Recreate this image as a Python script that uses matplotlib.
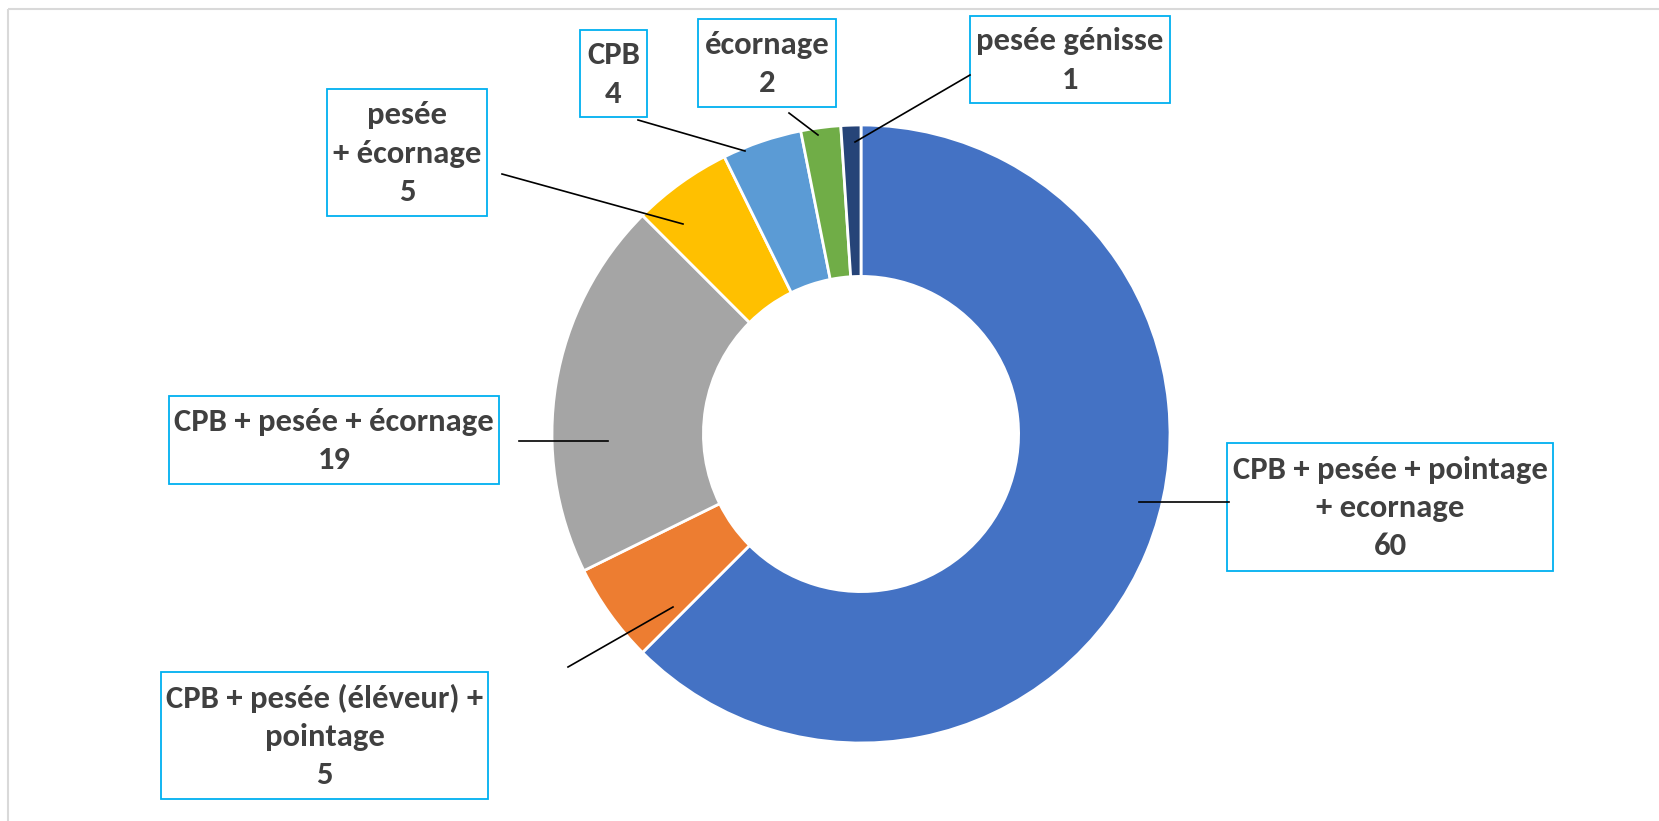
import matplotlib
matplotlib.use('Agg')
import matplotlib.pyplot as plt
from matplotlib.patches import Rectangle
from matplotlib import font_manager

# donut values, clockwise from 12 o'clock
categories = ['CPB + pesée + pointage\n+ ecornage',
              'CPB + pesée (éléveur) +\npointage',
              'CPB + pesée + écornage',
              'pesée\n+ écornage',
              'CPB',
              'écornage',
              'pesée génisse']
values = [60, 5, 19, 5, 4, 2, 1]
colors = ['#4472C4', '#ED7D31', '#A5A5A5', '#FFC000', '#5B9BD5', '#70AD47', '#264478']

# label boxes in pixels (x0, y0, x1, y1) and leader lines (box end, ring end)
boxes = [(1227, 443, 1553, 571),
         (161, 672, 488, 799),
         (169, 396, 499, 484),
         (327, 89, 487, 216),
         (580, 30, 647, 117),
         (698, 19, 836, 107),
         (970, 16, 1170, 103)]
leaders = [((1229, 502), (1139, 502)),
           ((568, 667), (673, 607)),
           ((519, 441), (608, 441)),
           ((502, 174), (683, 224)),
           ((638, 120), (745, 151)),
           ((789, 113), (818, 135)),
           ((970, 75), (855, 142))]

W, H = 1659, 821
cx, cy, R = 861, 434, 309

names = {f.name for f in font_manager.fontManager.ttflist}
fam = [f for f in ['Carlito', 'Liberation Sans Narrow', 'DejaVu Sans'] if f in names]
plt.rcParams['font.family'] = fam

fig = plt.figure(figsize=(W / 100, H / 100), dpi=100)

# donut
axp = fig.add_axes([(cx - R) / W, (H - cy - R) / H, 2 * R / W, 2 * R / H])
axp.pie(values, colors=colors, startangle=90, counterclock=False, radius=1,
        wedgeprops=dict(width=0.49, edgecolor='white', linewidth=2))
axp.set_xlim(-1, 1)
axp.set_ylim(-1, 1)
axp.axis('off')

# overlay in pixel coords
ax = fig.add_axes([0, 0, 1, 1])
ax.set_xlim(0, W)
ax.set_ylim(H, 0)
ax.axis('off')

# chart border
ax.add_patch(Rectangle((8, 9), W, H, fill=False, edgecolor='#D9D9D9', linewidth=1.5))

for cat, v, b, (p0, p1) in zip(categories, values, boxes, leaders):
    ax.plot([p0[0], p1[0]], [p0[1], p1[1]], color='black', linewidth=1.2)
    ax.add_patch(Rectangle((b[0], b[1]), b[2] - b[0], b[3] - b[1], facecolor='white',
                           edgecolor='#00B0F0', linewidth=1.3))
    ax.text((b[0] + b[2]) / 2, (b[1] + b[3]) / 2 + 1, '%s\n%d' % (cat, v),
            ha='center', va='center', fontsize=23.5, fontweight='bold',
            color='#404040', linespacing=1.45)

fig.savefig('out.png', dpi=100)
